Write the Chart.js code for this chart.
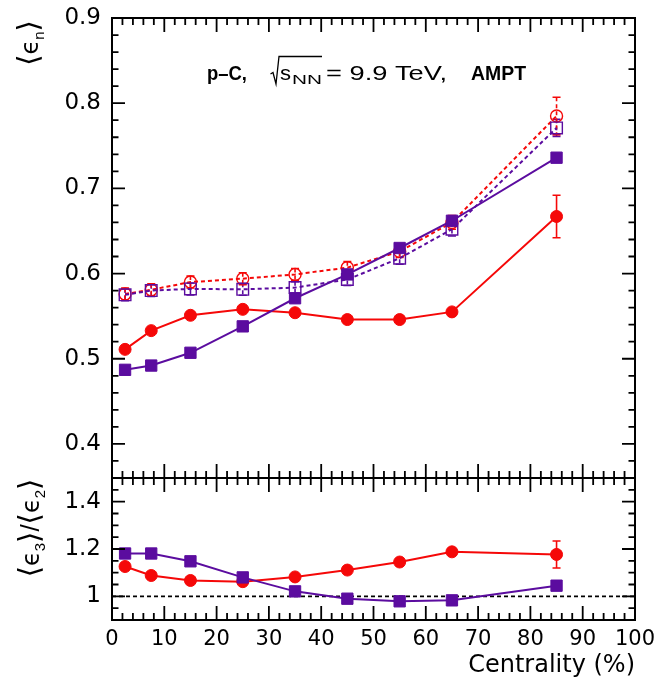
<!DOCTYPE html>
<html>
<head>
<meta charset="utf-8">
<script src="https://cdn.jsdelivr.net/npm/chart.js"></script>
<style>
  html, body { margin: 0; padding: 0; background: #fff; }
  #wrap { position: relative; width: 656px; height: 688px; overflow: hidden; }
  canvas { position: absolute; left: 0; }
  #eps-chart { top: 0; }
  #ratio-chart { top: 470px; }
</style>
</head>
<body>
<div id="wrap">
  <canvas id="eps-chart" width="656" height="480"></canvas>
  <canvas id="ratio-chart" width="656" height="218"></canvas>
</div>
<script>
// centrality bins (%)
var centrality = [2.5, 7.5, 15, 25, 35, 45, 55, 65, 85];

// <eps_2> (filled, solid) and <eps_3> (open, dashed)
var redEps2       = [0.511, 0.533, 0.551, 0.558, 0.554, 0.546, 0.546, 0.555, 0.667];
var redEps2Err    = [0.003, 0.003, 0.003, 0.003, 0.003, 0.003, 0.003, 0.004, 0.025];
var redEps3       = [0.576, 0.581, 0.590, 0.594, 0.599, 0.607, 0.626, 0.660, 0.785];
var redEps3Err    = [0.007, 0.007, 0.007, 0.007, 0.007, 0.007, 0.007, 0.008, 0.022];
var violetEps2    = [0.487, 0.492, 0.507, 0.538, 0.571, 0.599, 0.630, 0.662, 0.736];
var violetEps2Err = [0.002, 0.002, 0.002, 0.002, 0.002, 0.002, 0.003, 0.003, 0.004];
var violetEps3    = [0.575, 0.580, 0.582, 0.5815, 0.5835, 0.593, 0.618, 0.652, 0.771];
var violetEps3Err = [0.007, 0.007, 0.007, 0.007, 0.007, 0.007, 0.007, 0.008, 0.010];

// <eps_3>/<eps_2>
var redRatio       = [1.126, 1.088, 1.067, 1.062, 1.082, 1.111, 1.145, 1.188, 1.177];
var redRatioErr    = [0.004, 0.004, 0.004, 0.004, 0.004, 0.004, 0.005, 0.006, 0.057];
var violetRatio    = [1.181, 1.181, 1.148, 1.080, 1.021, 0.990, 0.979, 0.983, 1.045];
var violetRatioErr = [0.003, 0.003, 0.003, 0.003, 0.003, 0.003, 0.003, 0.004, 0.006];

var xTicks = [0, 10, 20, 30, 40, 50, 60, 70, 80, 90, 100];
var epsTicks = [0.4, 0.5, 0.6, 0.7, 0.8, 0.9];
var ratioTicks = [1, 1.2, 1.4];
var unityLine = 1;

var FONT = "'Liberation Sans', Arial, sans-serif";
var WIDE = "'DejaVu Sans', sans-serif";
var RED = '#f50808';
var VIOLET = '#5b0c9f';

function pts(ys) {
  return centrality.map(function (x, i) { return { x: x, y: ys[i] }; });
}

function series(label, ys, errs, color, filled, shape) {
  var rect = shape === 'rect';
  return {
    label: label,
    data: pts(ys),
    errors: errs,
    borderColor: color,
    borderWidth: 2,
    borderDash: filled ? [] : [4, 3],
    pointStyle: shape,
    pointRadius: rect ? (filled ? 8 : 8.2) : 6,
    pointBackgroundColor: filled ? color : 'rgba(255,255,255,0)',
    pointBorderColor: color,
    pointBorderWidth: filled ? 1 : 1.4,
    tension: 0,
    fill: false
  };
}

var errorBars = {
  id: 'errorBars',
  beforeDatasetsDraw: function (chart) {
    var ctx = chart.ctx, a = chart.chartArea;
    var xs = chart.scales.x, ys = chart.scales.y;
    ctx.save();
    ctx.beginPath();
    ctx.rect(a.left, a.top, a.right - a.left, a.bottom - a.top);
    ctx.clip();
    chart.data.datasets.forEach(function (ds) {
      if (!ds.errors) return;
      ctx.strokeStyle = ds.borderColor;
      ctx.lineWidth = 1.6;
      ds.data.forEach(function (p, i) {
        var e = ds.errors[i];
        var px = xs.getPixelForValue(p.x);
        var y1 = ys.getPixelForValue(p.y + e), y2 = ys.getPixelForValue(p.y - e);
        ctx.setLineDash(ds.borderDash);
        ctx.beginPath();
        ctx.moveTo(px, y1); ctx.lineTo(px, y2);
        ctx.stroke();
        ctx.setLineDash([]);
        ctx.beginPath();
        ctx.moveTo(px - 4, y1); ctx.lineTo(px + 4, y1);
        ctx.moveTo(px - 4, y2); ctx.lineTo(px + 4, y2);
        ctx.stroke();
      });
    });
    ctx.restore();
  }
};

// box frame with inward ticks on all four sides
var frame = {
  id: 'frame',
  beforeDatasetsDraw: function (chart, args, opts) {
    if (opts.unity === undefined) return;
    var ctx = chart.ctx, a = chart.chartArea;
    var py = chart.scales.y.getPixelForValue(opts.unity);
    ctx.save();
    ctx.strokeStyle = '#000';
    ctx.lineWidth = 1.6;
    ctx.setLineDash([4, 3]);
    ctx.beginPath();
    ctx.moveTo(a.left, py); ctx.lineTo(a.right, py);
    ctx.stroke();
    ctx.restore();
  },
  afterDatasetsDraw: function (chart, args, opts) {
    var ctx = chart.ctx, a = chart.chartArea;
    var xs = chart.scales.x, ys = chart.scales.y;
    var k, p, len;
    ctx.save();
    ctx.strokeStyle = '#000';
    ctx.lineWidth = 1.8;
    ctx.setLineDash([]);
    ctx.beginPath();
    for (k = Math.round(xs.min / opts.xMinor); k <= Math.round(xs.max / opts.xMinor); k++) {
      p = xs.getPixelForValue(k * opts.xMinor);
      len = k % opts.xEvery === 0 ? 14 : 7;
      ctx.moveTo(p, a.top); ctx.lineTo(p, a.top + len);
      ctx.moveTo(p, a.bottom); ctx.lineTo(p, a.bottom - len);
    }
    for (k = Math.round(ys.min / opts.yMinor); k <= Math.round(ys.max / opts.yMinor); k++) {
      p = ys.getPixelForValue(k * opts.yMinor);
      len = k % opts.yEvery === 0 ? 13 : 6.5;
      ctx.moveTo(a.left, p); ctx.lineTo(a.left + len, p);
      ctx.moveTo(a.right, p); ctx.lineTo(a.right - len, p);
    }
    ctx.stroke();
    ctx.lineWidth = 2;
    ctx.strokeRect(a.left, a.top, a.right - a.left, a.bottom - a.top);
    ctx.restore();
  }
};

// text squeezed or widened to a given span
function fillSpan(ctx, text, x, y, span) {
  var w = ctx.measureText(text).width;
  ctx.save();
  ctx.translate(x, y);
  ctx.scale(span / w, 1);
  ctx.fillText(text, 0, 0);
  ctx.restore();
}

// rotated y-axis titles made of pieces (brackets, epsilon, subscripts)
function drawRotated(ctx, baseX, centerY, pieces) {
  var total = 0;
  pieces.forEach(function (p) { ctx.font = p.font; p.w = ctx.measureText(p.text).width; total += p.w; });
  ctx.save();
  ctx.translate(baseX, centerY);
  ctx.rotate(-Math.PI / 2);
  ctx.fillStyle = '#000';
  ctx.textBaseline = 'alphabetic';
  var x = -total / 2;
  pieces.forEach(function (p) {
    ctx.font = p.font;
    ctx.fillText(p.text, x, p.dy || 0);
    x += p.w;
  });
  ctx.restore();
}

var BR = '29px ' + WIDE, EP = '24px ' + WIDE, SUB = '15px ' + FONT;

var epsLabels = {
  id: 'epsLabels',
  afterDraw: function (chart) {
    var ctx = chart.ctx;
    drawRotated(ctx, 38, 43, [
      { text: '\u27E8', font: BR },
      { text: '\u03F5', font: EP },
      { text: 'n', font: SUB, dy: 6 },
      { text: '\u27E9', font: BR }
    ]);
    // system label
    ctx.save();
    ctx.fillStyle = '#000';
    ctx.strokeStyle = '#000';
    ctx.textBaseline = 'alphabetic';
    var base = 80;
    ctx.font = 'bold 20px ' + FONT;
    fillSpan(ctx, 'p\u2013C,', 207, base, 40);
    ctx.lineWidth = 1.3;
    ctx.beginPath();
    ctx.moveTo(270.5, 74); ctx.lineTo(273, 72.5); ctx.lineTo(276, 84); ctx.lineTo(279, 56.5); ctx.lineTo(322, 56.5);
    ctx.stroke();
    ctx.font = '20px ' + FONT;
    fillSpan(ctx, 's', 280, base, 11);
    ctx.font = '12px ' + FONT;
    fillSpan(ctx, 'NN', 292, base + 4, 30);
    ctx.font = '20px ' + FONT;
    fillSpan(ctx, '= 9.9 TeV,', 326, base, 121);
    ctx.font = 'bold 20px ' + FONT;
    fillSpan(ctx, 'AMPT', 471, base, 55);
    ctx.restore();
  }
};

var ratioLabels = {
  id: 'ratioLabels',
  afterDraw: function (chart) {
    drawRotated(chart.ctx, 39, 528 - 470, [
      { text: '\u27E8', font: BR },
      { text: '\u03F5', font: EP },
      { text: '3', font: SUB, dy: 6 },
      { text: '\u27E9', font: BR },
      { text: '/', font: '26px ' + FONT },
      { text: '\u27E8', font: BR },
      { text: '\u03F5', font: EP },
      { text: '2', font: SUB, dy: 6 },
      { text: '\u27E9', font: BR }
    ]);
  }
};

function yAxis(min, max, values, fmt) {
  return {
    type: 'linear',
    min: min,
    max: max,
    grid: { display: false, drawTicks: false },
    border: { display: false },
    ticks: { color: '#000', font: { family: WIDE, size: 23 }, padding: 11, callback: fmt },
    afterBuildTicks: function (s) { s.ticks = values.map(function (v) { return { value: v }; }); },
    afterFit: function (s) { s.width = 112; s.paddingTop = 0; s.paddingBottom = 0; }
  };
}

Chart.defaults.font.family = FONT;

new Chart(document.getElementById('eps-chart'), {
  type: 'line',
  data: {
    datasets: [
      series('violet eps2', violetEps2, violetEps2Err, VIOLET, true, 'rect'),
      series('red eps2', redEps2, redEps2Err, RED, true, 'circle'),
      series('violet eps3', violetEps3, violetEps3Err, VIOLET, false, 'rect'),
      series('red eps3', redEps3, redEps3Err, RED, false, 'circle')
    ]
  },
  options: {
    responsive: false,
    animation: false,
    layout: { autoPadding: false, padding: { top: 18, right: 21, bottom: 2, left: 0 } },
    plugins: {
      legend: { display: false },
      tooltip: { enabled: false },
      frame: { xMinor: 2, xEvery: 5, yMinor: 0.02, yEvery: 5 }
    },
    scales: {
      x: { type: 'linear', min: 0, max: 100, display: false },
      y: yAxis(0.36, 0.9, epsTicks, function (v) { return v.toFixed(1); })
    }
  },
  plugins: [errorBars, frame, epsLabels]
});

new Chart(document.getElementById('ratio-chart'), {
  type: 'line',
  data: {
    datasets: [
      series('violet ratio', violetRatio, violetRatioErr, VIOLET, true, 'rect'),
      series('red ratio', redRatio, redRatioErr, RED, true, 'circle')
    ]
  },
  options: {
    responsive: false,
    animation: false,
    layout: { autoPadding: false, padding: { top: 8, right: 21, bottom: 0, left: 0 } },
    plugins: {
      legend: { display: false },
      tooltip: { enabled: false },
      frame: { xMinor: 2, xEvery: 5, yMinor: 0.05, yEvery: 4, unity: unityLine }
    },
    scales: {
      x: {
        type: 'linear',
        min: 0,
        max: 100,
        grid: { display: false, drawTicks: false },
        border: { display: false },
        ticks: { color: '#000', font: { family: WIDE, size: 21 }, padding: 7, maxRotation: 0 },
        title: {
          display: true,
          text: 'Centrality (%)',
          align: 'end',
          color: '#000',
          font: { family: WIDE, size: 24 },
          padding: { top: 4, bottom: 8 }
        },
        afterBuildTicks: function (s) { s.ticks = xTicks.map(function (v) { return { value: v }; }); },
        afterFit: function (s) { s.height = 68; s.paddingLeft = 0; s.paddingRight = 0; }
      },
      y: yAxis(0.9, 1.5, ratioTicks, function (v) { return String(v); })
    }
  },
  plugins: [errorBars, frame, ratioLabels]
});
</script>
</body>
</html>
